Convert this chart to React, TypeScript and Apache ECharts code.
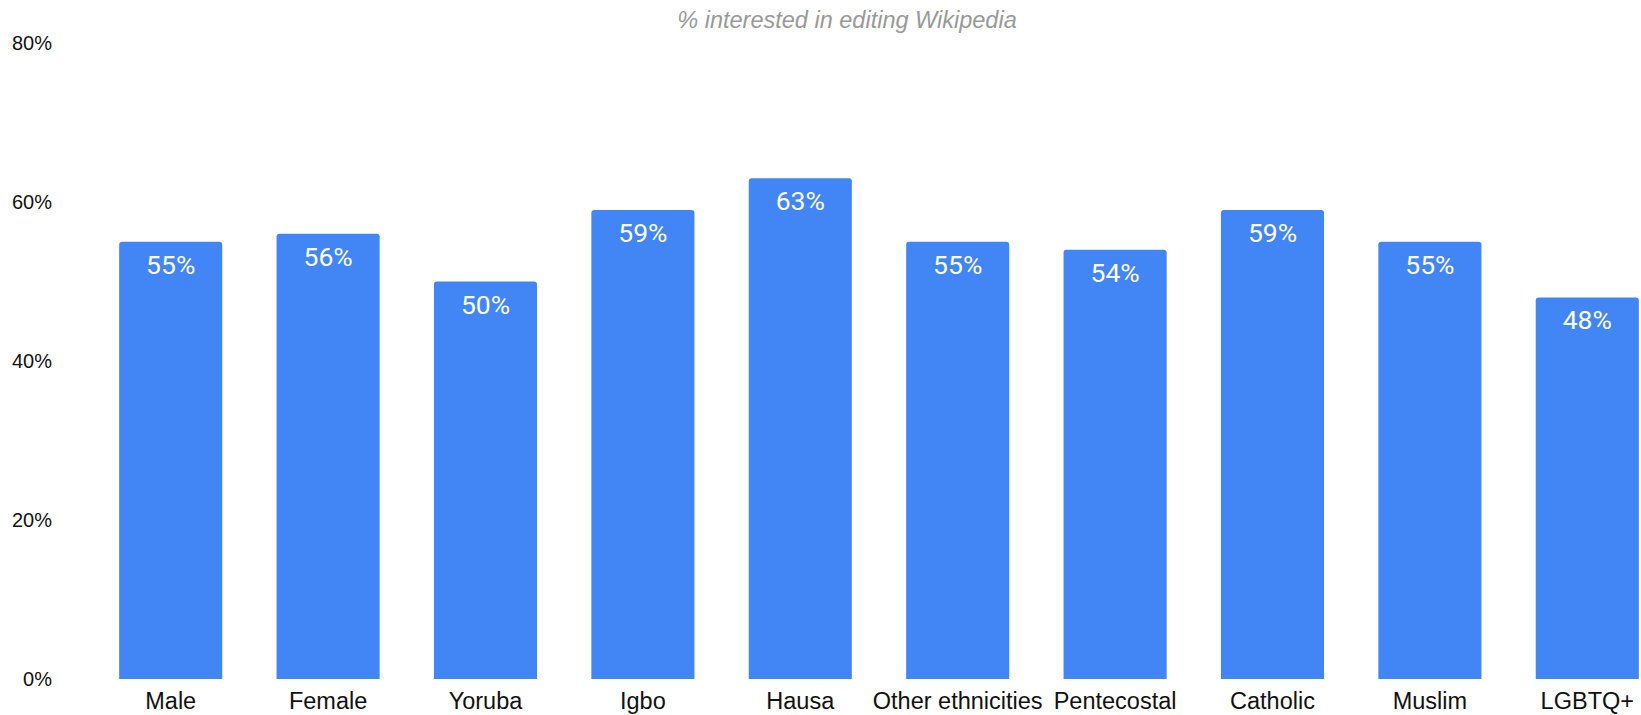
import React, { useEffect, useRef } from "react";
import * as echarts from "echarts";

const categories = ["Male", "Female", "Yoruba", "Igbo", "Hausa", "Other ethnicities", "Pentecostal", "Catholic", "Muslim", "LGBTQ+"];
const values = [55, 56, 50, 59, 63, 55, 54, 59, 55, 48];
const yTicks = { min: 0, max: 80, interval: 20 };
const titleText = "% interested in editing Wikipedia";

export default function App() {
  const ref = useRef<HTMLDivElement>(null);
  useEffect(() => {
    if (!ref.current) return;
    const chart = echarts.init(ref.current, undefined, { renderer: "svg" });
    chart.setOption({
      animation: false,
      backgroundColor: "#ffffff",
      title: {
        text: titleText,
        left: 842,
        top: 3,
        textAlign: "center",
        textStyle: {
          fontFamily: "Liberation Sans, Arial, sans-serif",
          fontStyle: "italic",
          fontWeight: "normal",
          fontSize: 23.5,
          color: "#999999",
        },
      },
      grid: { left: 92, top: 43, width: 1574, bottom: 36, containLabel: false },
      xAxis: {
        type: "category",
        data: categories,
        axisLine: { show: false },
        axisTick: { show: false },
        axisLabel: {
          interval: 0,
          margin: 10,
          fontSize: 23.5,
          color: "#111111",
          fontFamily: "Liberation Sans, Arial, sans-serif",
        },
      },
      yAxis: {
        type: "value",
        min: yTicks.min,
        max: yTicks.max,
        interval: yTicks.interval,
        splitLine: { show: false },
        axisLine: { show: false },
        axisTick: { show: false },
        axisLabel: {
          formatter: "{value}%",
          margin: 40,
          fontSize: 20,
          color: "#111111",
          fontFamily: "Liberation Sans, Arial, sans-serif",
        },
      },
      series: [
        {
          type: "bar",
          data: values,
          barCategoryGap: "34.5%",
          itemStyle: { color: "#4285F4", borderRadius: [3, 3, 0, 0] },
          label: {
            show: true,
            position: "insideTop",
            distance: 9,
            formatter: "{c}%",
            color: "#ffffff",
            fontSize: 26.5,
            fontFamily: "Roboto, sans-serif",
          },
        },
      ],
    });
    return () => chart.dispose();
  }, []);
  return (
    <div style={{ position: "fixed", left: 0, top: 0, width: 1641, height: 715, overflow: "hidden", background: "#fff" }}>
      <div ref={ref} style={{ width: 1720, height: 715 }} />
    </div>
  );
}
